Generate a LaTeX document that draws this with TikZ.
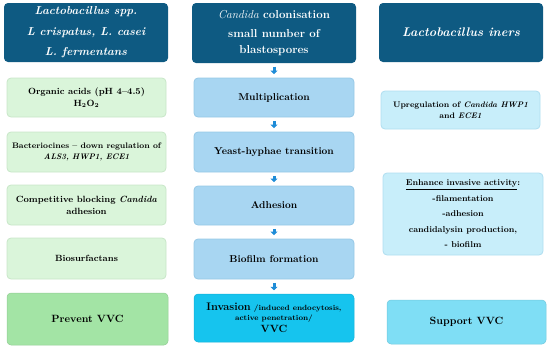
\documentclass[tikz,border=0pt]{standalone}
\usetikzlibrary{arrows.meta}
\definecolor{hdr}{RGB}{14,90,130}
\definecolor{grn}{RGB}{218,245,218}
\definecolor{grnb}{RGB}{200,230,200}
\definecolor{pgr}{RGB}{163,228,165}
\definecolor{mbl}{RGB}{168,214,242}
\definecolor{mblb}{RGB}{150,200,230}
\definecolor{inv}{RGB}{22,196,238}
\definecolor{rlt}{RGB}{200,238,250}
\definecolor{rltb}{RGB}{175,222,240}
\definecolor{sup}{RGB}{127,222,245}
\definecolor{arr}{RGB}{30,140,215}
\tikzset{
  x=1pt,y=-1pt,
  base/.style={rounded corners=4pt, align=center, inner sep=0pt, font=\fontsize{9}{12}\selectfont\bfseries},
  hdrbox/.style={base, fill=hdr, text=white},
  gbox/.style={base, fill=grn, draw=grnb, line width=0.8pt},
  pbox/.style={base, fill=pgr, draw=pgr!90!black, line width=0.5pt, font=\fontsize{10.5}{13}\selectfont\bfseries},
  mbox/.style={base, fill=mbl, draw=mblb, line width=0.8pt, font=\fontsize{10}{13}\selectfont\bfseries},
  ibox/.style={base, fill=inv, draw=inv!90!black, line width=0.5pt},
  rbox/.style={base, fill=rlt, draw=rltb, line width=0.8pt},
  sbox/.style={base, fill=sup, draw=sup!90!black, line width=0.5pt, font=\fontsize{10.5}{13}\selectfont\bfseries},
  flow/.style={arr, line width=3pt, -{Triangle[width=7pt,length=3.5pt]}, shorten >=3.5pt, shorten <=3.5pt}
}
\begin{document}
\begin{tikzpicture}
\useasboundingbox (0,0) rectangle (550,349);
% left column
\node[hdrbox, minimum width=164, minimum height=59, font=\fontsize{11.5}{20.5}\selectfont\bfseries\itshape] (hL) at (86,32.5)
  {Lactobacillus spp.\\ L crispatus, L. casei\\ L. fermentans};
\node[gbox, minimum width=159, minimum height=39] (l1) at (86.5,97.5)
  {Organic acids (pH 4--4.5)\\ H$_\mathbf{2}$O$_\mathbf{2}$};
\node[gbox, minimum width=159, minimum height=40, font=\fontsize{8}{11}\selectfont\bfseries] (l2) at (86.5,152)
  {Bacteriocines -- down regulation of\\ \textit{ALS3, HWP1, ECE1}};
\node[gbox, minimum width=159, minimum height=40] (l3) at (86.5,205)
  {Competitive blocking \textit{Candida}\\ adhesion};
\node[gbox, minimum width=159, minimum height=41] (l4) at (86.5,258.5)
  {Biosurfactans};
\node[pbox, minimum width=161, minimum height=52] (l5) at (87.5,319)
  {Prevent VVC};
% middle column
\node[hdrbox, minimum width=164, minimum height=60, font=\fontsize{11.5}{19}\selectfont\bfseries] (hM) at (274,33)
  {{\normalfont\fontsize{11.5}{19}\selectfont\itshape Candida} colonisation\\ small number of\\[-3pt] blastospores};
\node[mbox, minimum width=160, minimum height=39] (m1) at (274,97.5) {Multiplication};
\node[mbox, minimum width=160, minimum height=40] (m2) at (274,152) {Yeast-hyphae transition};
\node[mbox, minimum width=160, minimum height=39] (m3) at (274,205.5) {Adhesion};
\node[mbox, minimum width=160, minimum height=40] (m4) at (274,259) {Biofilm formation};
\node[ibox, minimum width=160, minimum height=48, font=\fontsize{7.5}{10}\selectfont\bfseries] (m5) at (274,318)
  {{\fontsize{11}{12}\selectfont Invasion} /induced endocytosis,\\ active penetration/\\[2pt] {\fontsize{10.5}{12}\selectfont VVC}};
\draw[flow] (hM) -- (m1);
\draw[flow] (m1) -- (m2);
\draw[flow] (m2) -- (m3);
\draw[flow] (m3) -- (m4);
\draw[flow] (m4) -- (m5);
% right column
\node[hdrbox, minimum width=164, minimum height=59, font=\fontsize{12.5}{15}\selectfont\bfseries\itshape] (hR) at (461,32.5)
  {Lactobacillus iners};
\node[rbox, minimum width=159, minimum height=38, font=\fontsize{8}{11}\selectfont\bfseries] (r1) at (460.5,110)
  {Upregulation of \textit{Candida HWP1}\\ and \textit{ECE1}};
\node[rbox, minimum width=160, minimum height=82, font=\fontsize{8.5}{15.5}\selectfont\bfseries] (r2) at (463,214)
  {\underline{Enhance invasive activity}:\\ -filamentation\\ -adhesion\\ candidalysin production,\\ - biofilm};
\node[sbox, minimum width=159, minimum height=44] (r3) at (466.5,322) {Support VVC};
\end{tikzpicture}
\end{document}
